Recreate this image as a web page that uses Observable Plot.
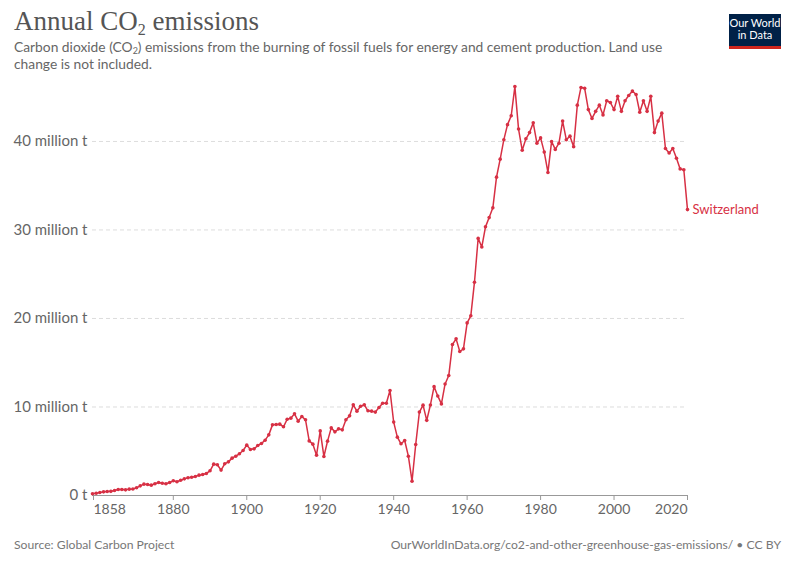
<!DOCTYPE html>
<html>
<head>
<meta charset="utf-8">
<script src="https://cdn.jsdelivr.net/npm/d3@7"></script>
<script src="https://cdn.jsdelivr.net/npm/@observablehq/plot@0.6"></script>
<style>
  html, body { margin: 0; padding: 0; background: #fff; }
  body { width: 800px; height: 565px; position: relative; overflow: hidden; font-family: Lato, "Noto Sans", sans-serif; }
  #title { position: absolute; left: 14px; top: 6px; font-family: "Liberation Serif", "DejaVu Serif", serif; font-size: 27px; color: #555; white-space: nowrap; }
  #title sub { font-size: 16px; vertical-align: -5px; line-height: 0; }
  #subtitle { position: absolute; left: 14px; top: 38px; font-size: 13.8px; line-height: 17px; color: #666; white-space: nowrap; }
  #subtitle sub { font-size: 9px; vertical-align: -2px; line-height: 0; }
  #logo { position: absolute; left: 729px; top: 14px; width: 52px; background: #002147; border-bottom: 3px solid #ce261e; color: #fff; font-size: 11px; line-height: 12px; text-align: center; padding-top: 3px; box-sizing: border-box; height: 35px; }
  #chart { position: absolute; left: 0; top: 70px; }
  #source { position: absolute; left: 14px; top: 537px; font-size: 12.2px; color: #777; }
  #url { position: absolute; right: 19px; top: 537px; font-size: 12.2px; color: #777; }
</style>
</head>
<body>
<div id="title">Annual CO<sub>2</sub> emissions</div>
<div id="subtitle">Carbon dioxide (CO<sub>2</sub>) emissions from the burning of fossil fuels for energy and cement production. Land use<br>change is not included.</div>
<div id="logo">Our World<br>in Data</div>
<div id="chart"></div>
<div id="source">Source: Global Carbon Project</div>
<div id="url">OurWorldInData.org/co2-and-other-greenhouse-gas-emissions/ • CC BY</div>
<script>
const entity = "Switzerland";
const firstYear = 1858;
// annual CO2 emissions, million tonnes, 1858..2020 (one row per decade)
const emissions = [
  0.19, 0.26,                                                   // 1858-1859
  0.34, 0.41, 0.45, 0.47, 0.56, 0.68, 0.68, 0.64, 0.72, 0.74,   // 1860s
  0.87, 1.09, 1.28, 1.24, 1.17, 1.32, 1.47, 1.39, 1.32, 1.47,   // 1870s
  1.66, 1.55, 1.73, 1.88, 2.00, 2.07, 2.15, 2.30, 2.37, 2.49,   // 1880s
  2.79, 3.54, 3.47, 2.87, 3.58, 3.80, 4.22, 4.44, 4.71, 5.08,   // 1890s
  5.69, 5.20, 5.27, 5.65, 5.88, 6.25, 6.85, 7.98, 8.02, 8.06,   // 1900s
  7.76, 8.62, 8.74, 9.23, 8.40, 8.93, 8.55, 6.17, 5.80, 4.56,   // 1910s
  7.30, 4.41, 6.14, 7.64, 7.19, 7.53, 7.42, 8.55, 9.00, 10.24,  // 1920s
  9.53, 10.09, 10.24, 9.57, 9.53, 9.42, 9.94, 10.43, 10.43, 11.86, // 1930s
  8.29, 6.59, 5.84, 6.21, 4.44, 1.62, 5.76, 9.42, 10.21, 8.49,  // 1940s
  10.23, 12.30, 11.25, 10.35, 12.60, 13.55, 17.06, 17.70, 16.27, 16.57, // 1950s
  19.50, 20.30, 24.10, 29.05, 28.08, 30.35, 31.40, 32.50, 35.97, 38.00, // 1960s
  40.20, 41.90, 42.90, 46.20, 41.40, 39.00, 40.30, 41.00, 42.10, 39.80, // 1970s
  40.40, 38.80, 36.50, 40.00, 39.10, 39.80, 42.30, 40.20, 40.60, 39.40, // 1980s
  44.10, 46.10, 46.00, 43.60, 42.60, 43.40, 44.10, 43.00, 44.60, 44.40, // 1990s
  43.60, 45.10, 43.40, 44.60, 45.20, 45.70, 45.30, 43.30, 44.60, 43.40, // 2000s
  45.10, 41.00, 42.30, 43.20, 39.20, 38.70, 39.20, 38.10, 36.90, 36.80, // 2010s
  32.30                                                          // 2020
];
const xTicks = [1858, 1880, 1900, 1920, 1940, 1960, 1980, 2000, 2020];
const yTicks = [0, 10, 20, 30, 40];
const yTickLabels = ["0 t", "10 million t", "20 million t", "30 million t", "40 million t"];

const data = emissions.map((v, i) => ({year: firstYear + i, value: v}));
const last = data[data.length - 1];
const color = "#d73044";

const chart = Plot.plot({
  width: 800,
  height: 458,
  marginLeft: 92,
  marginRight: 113,
  marginTop: 9,
  marginBottom: 33,
  style: {fontFamily: "Lato, 'Noto Sans', sans-serif", fontSize: "14px", color: "#666", background: "transparent"},
  x: {domain: [firstYear, last.year], label: null},
  y: {domain: [0, 47], label: null},
  marks: [
    Plot.ruleY(yTicks.filter(d => d > 0), {stroke: "#ddd", strokeDasharray: "4,3"}),
    Plot.axisY(yTicks, {label: null, tickSize: 0, tickPadding: 5, tickFormat: d => yTickLabels[yTicks.indexOf(d)], fontSize: 15, fill: "#666"}),
    Plot.ruleY([0], {stroke: "#999"}),
    Plot.axisX(xTicks.slice(0, 1), {label: null, tickSize: 5, tickPadding: 4, stroke: "#999", textAnchor: "start", dx: 1, tickFormat: d => String(d), fill: "#666", fontSize: 14}),
    Plot.axisX(xTicks.slice(1, -1), {label: null, tickSize: 5, tickPadding: 4, stroke: "#999", tickFormat: d => String(d), fill: "#666", fontSize: 14}),
    Plot.axisX(xTicks.slice(-1), {label: null, tickSize: 5, tickPadding: 4, stroke: "#999", textAnchor: "end", tickFormat: d => String(d), fill: "#666", fontSize: 14}),
    Plot.line(data, {x: "year", y: "value", stroke: color, strokeWidth: 1.5}),
    Plot.dot(data, {x: "year", y: "value", fill: color, r: 1.8}),
    Plot.text([last], {x: "year", y: "value", text: () => entity, fill: color, textAnchor: "start", dx: 5, fontSize: 13})
  ]
});
document.getElementById("chart").appendChild(chart);
</script>
</body>
</html>
